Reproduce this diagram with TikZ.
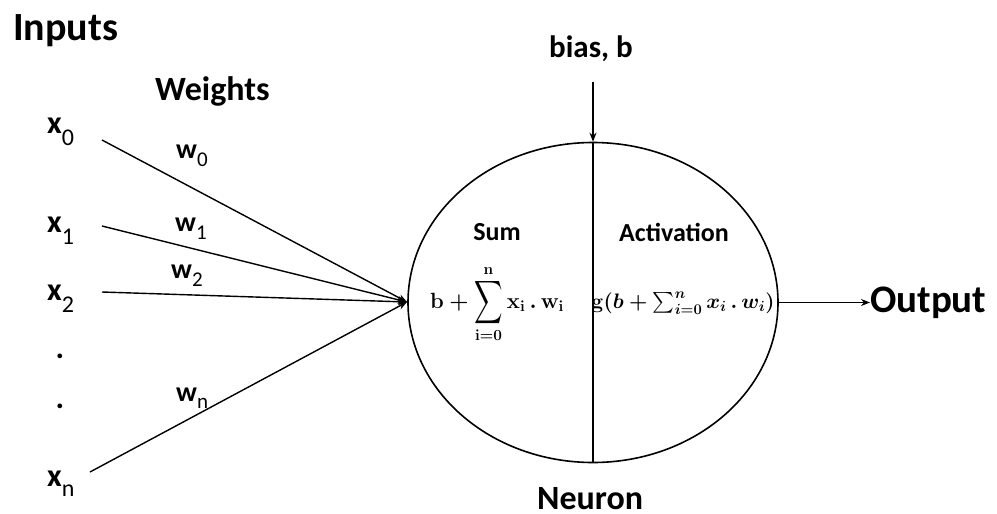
\RequirePackage{fix-cm}
\documentclass[tikz,border=0pt]{standalone}
\usepackage{amsmath}
\usepackage{fontspec}
\usepackage{graphicx}
\setmainfont{Carlito}
\usetikzlibrary{shapes.geometric,arrows.meta}
\newcommand{\lblsub}[4]{#1\raisebox{-#4pt}{\mdseries\fontsize{#3}{#3}\selectfont #2}}
\newcommand{\bigsumop}{\mathop{\vcenter{\hbox{\scalebox{0.95}[1.45]{$\displaystyle\sum$}}}}\limits}
\begin{document}
\begin{tikzpicture}[x=1pt,y=-1pt,
  lbl/.style={font=\bfseries\fontsize{#1}{#1}\selectfont, inner sep=0pt},
  mth/.style={font=\fontsize{#1}{#1}\selectfont\boldmath, inner sep=0pt},
  conn/.style={line width=1.4pt, -{Stealth[length=9pt,width=7pt]}}]
\useasboundingbox (0,0) rectangle (997,514);
% neuron
\node[draw, ellipse, line width=1.6pt, minimum width=370, minimum height=320, inner sep=0pt] (neuron) at (593,302.5) {};
\draw[line width=2.4pt] (neuron.north) -- (neuron.south);
% titles
\node[lbl=40, anchor=base west] (inputs) at (13,40) {Inputs};
\node[lbl=34, anchor=base west] (weights) at (155,100) {Weights};
\node[lbl=31, anchor=base west] (bias) at (549,57) {bias, b};
\node[lbl=34, anchor=base west, text depth=0pt] (neuronlbl) at (537,509) {Neuron};
\node[lbl=39, anchor=base west] (output) at (870,312) {Output};
% inputs
\node[lbl=32, anchor=base west] (x0) at (47,133) {\lblsub{x}{0}{24}{12}};
\node[lbl=32, anchor=base west] (x1) at (47,232) {\lblsub{x}{1}{24}{12}};
\node[lbl=32, anchor=base west] (x2) at (47,300) {\lblsub{x}{2}{24}{12}};
\node[lbl=32, anchor=base] (d1) at (60,358) {.};
\node[lbl=32, anchor=base] (d2) at (60,408) {.};
\node[lbl=32, anchor=base west] (xn) at (47,486) {\lblsub{x}{n}{24}{10}};
% weights
\node[lbl=28, anchor=base west] (w0) at (176,158) {\lblsub{w}{0}{21}{8}};
\node[lbl=28, anchor=base west] (w1) at (175,231) {\lblsub{w}{1}{21}{8}};
\node[lbl=28, anchor=base west] (w2) at (171,278) {\lblsub{w}{2}{21}{8}};
\node[lbl=28, anchor=base west] (wn) at (176,401) {\lblsub{w}{n}{21}{7}};
% connector ends
\coordinate (s0) at (102,140);
\coordinate (s1) at (102,226);
\coordinate (s2) at (102,292);
\coordinate (sn) at (90,472);
\coordinate (conv) at (407,302);
\coordinate (btop) at (593,82);
\draw[conn] (s0) -- (conv);
\draw[conn] (s1) -- (conv);
\draw[conn] (s2) -- (conv);
\draw[conn] (sn) -- (conv);
\draw[conn] (btop) -- (neuron.north);
\draw[conn] (neuron.east) -- (output.west|-neuron.east);
% inside
\node[lbl=26] (sum) at (497,232) {Sum};
\node[lbl=26] (act) at (674,232) {Activation};
\node[mth=22, anchor=base] (sumf) at (497,308) {$\mathbf{b}+\bigsumop_{\mathbf{i=0}}^{\mathbf{n}}\mathbf{x_i}\,\mathbf{.}\,\mathbf{w_i}$};
\node[mth=21, anchor=base] (actf) at (683,308) {$\mathbf{g}(b+\sum_{i=0}^{n}x_i\,\mathbf{.}\,w_i)$};
\end{tikzpicture}
\end{document}
